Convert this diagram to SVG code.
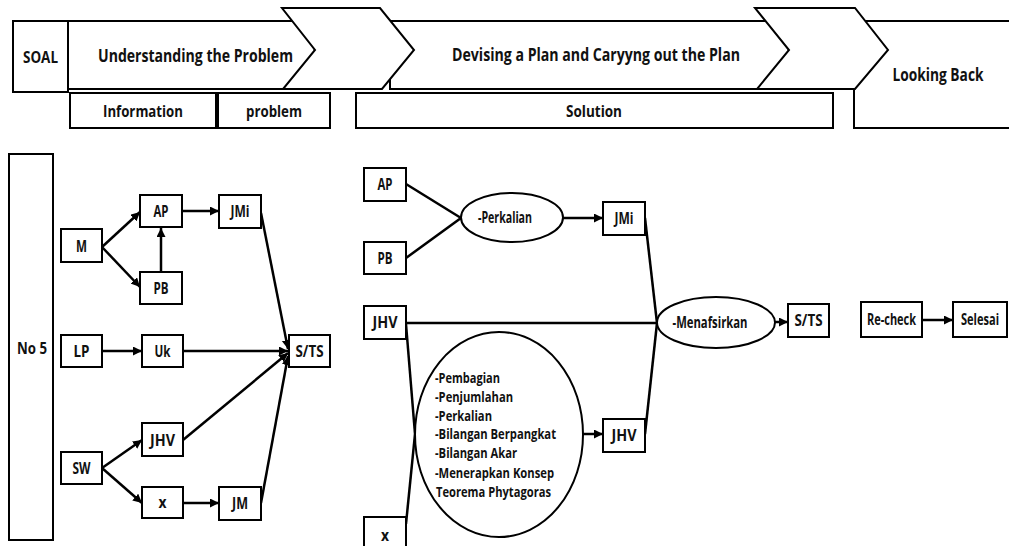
<svg xmlns="http://www.w3.org/2000/svg" width="1009" height="546" viewBox="0 0 1009 546">
  <style>
    .shape { fill: #fff; stroke: #000; stroke-width: 2; }
    .t { font-family: "Open Sans", "Liberation Sans", sans-serif; font-weight: 700; font-size: 16px; fill: #111; text-anchor: middle; }
    .h { font-size: 18px; }
    .lt { text-anchor: start; font-size: 15px; }
    .ln { fill: none; stroke: #000; stroke-width: 2.5; }
    .arr { marker-end: url(#head); }
  </style>
  <defs>
    <marker id="head" markerUnits="userSpaceOnUse" markerWidth="10" markerHeight="10" refX="9" refY="4.5" orient="auto">
      <path d="M0,0 L9,4.5 L0,9 Z" fill="#000"/>
    </marker>
  </defs>
  <rect width="1009" height="546" fill="#fff"/>

  <!-- header band: stage chevrons -->
  <g id="header">
    <g id="soal">
      <rect class="shape" x="13" y="21" width="55" height="71"/>
      <text class="t" x="40.5" y="63" textLength="35" lengthAdjust="spacingAndGlyphs">SOAL</text>
    </g>
    <g id="understanding">
      <polygon class="shape" points="68,21 300,21 315,50 300,89 68,89"/>
    </g>
    <g id="devising">
      <polygon class="shape" points="390,21 775,21 789,50 775,89 390,89"/>
    </g>
    <g id="looking-back">
      <rect class="shape" x="854" y="21" width="170" height="107"/>
    </g>
    <polygon class="shape" points="282,8 380,8 414,50 382,89 283,89 315,50"/>
    <polygon class="shape" points="755,8 855,8 888,50 855,89 757,89 789,50"/>
    <text class="t h" x="195.5" y="62" textLength="195" lengthAdjust="spacingAndGlyphs">Understanding the Problem</text>
    <text class="t h" x="596" y="61" textLength="288" lengthAdjust="spacingAndGlyphs">Devising a Plan and Caryyng out the Plan</text>
    <text class="t h" x="938" y="81" textLength="91" lengthAdjust="spacingAndGlyphs">Looking Back</text>

    <g id="information">
      <rect class="shape" x="70" y="93" width="146" height="35"/>
      <text class="t" x="143" y="117" textLength="80" lengthAdjust="spacingAndGlyphs">Information</text>
    </g>
    <g id="problem">
      <rect class="shape" x="218" y="93" width="112" height="35"/>
      <text class="t" x="274" y="117" textLength="56" lengthAdjust="spacingAndGlyphs">problem</text>
    </g>
    <g id="solution">
      <rect class="shape" x="356" y="93" width="477" height="35"/>
      <text class="t" x="594" y="117" textLength="56" lengthAdjust="spacingAndGlyphs">Solution</text>
    </g>
  </g>

  <!-- connectors -->
  <g id="connectors">
    <line class="ln arr" x1="102" y1="247" x2="140" y2="212"/>
    <line class="ln arr" x1="102" y1="247" x2="140" y2="287"/>
    <line class="ln arr" x1="161" y1="272" x2="161" y2="228"/>
    <line class="ln arr" x1="182" y1="211" x2="219" y2="211"/>
    <line class="ln arr" x1="102" y1="351" x2="142" y2="351"/>
    <line class="ln arr" x1="102" y1="468" x2="142" y2="440"/>
    <line class="ln arr" x1="102" y1="468" x2="142" y2="503"/>
    <line class="ln arr" x1="183" y1="503" x2="219" y2="503"/>
    <line class="ln arr" x1="261" y1="213" x2="288" y2="349"/>
    <line class="ln arr" x1="183" y1="351" x2="288" y2="351"/>
    <line class="ln arr" x1="183" y1="440" x2="288" y2="353"/>
    <line class="ln arr" x1="261" y1="503" x2="288" y2="356"/>

    <line class="ln" x1="406" y1="184" x2="461" y2="218"/>
    <line class="ln" x1="406" y1="258" x2="461" y2="218"/>
    <line class="ln arr" x1="563" y1="218" x2="603" y2="218"/>
    <line class="ln" x1="406" y1="323" x2="657" y2="323"/>
    <line class="ln" x1="645" y1="218" x2="657" y2="323"/>
    <line class="ln" x1="645" y1="434" x2="657" y2="323"/>
    <line class="ln arr" x1="775" y1="322" x2="788" y2="322"/>
    <line class="ln" x1="406" y1="324" x2="415" y2="434"/>
    <line class="ln" x1="406" y1="524" x2="415" y2="434"/>
    <line class="ln arr" x1="583" y1="434" x2="603" y2="434"/>
    <line class="ln arr" x1="922" y1="320" x2="953" y2="320"/>
  </g>

  <!-- problem analysis nodes -->
  <g id="no5">
    <rect class="shape" x="9" y="154" width="44" height="386"/>
    <text class="t" x="32" y="354" textLength="30" lengthAdjust="spacingAndGlyphs">No 5</text>
  </g>
  <g id="m">
    <rect class="shape" x="61" y="229" width="41" height="33"/>
    <text class="t" x="81.5" y="251.5" textLength="11" lengthAdjust="spacingAndGlyphs">M</text>
  </g>
  <g id="ap">
    <rect class="shape" x="140" y="195" width="42" height="32"/>
    <text class="t" x="161" y="216.5" textLength="15" lengthAdjust="spacingAndGlyphs">AP</text>
  </g>
  <g id="jmi">
    <rect class="shape" x="219" y="195" width="42" height="33"/>
    <text class="t" x="240" y="217" textLength="19" lengthAdjust="spacingAndGlyphs">JMi</text>
  </g>
  <g id="pb">
    <rect class="shape" x="140" y="272" width="42" height="32"/>
    <text class="t" x="161" y="293.5" textLength="15" lengthAdjust="spacingAndGlyphs">PB</text>
  </g>
  <g id="lp">
    <rect class="shape" x="61" y="335" width="41" height="32"/>
    <text class="t" x="81.5" y="356.5" textLength="16" lengthAdjust="spacingAndGlyphs">LP</text>
  </g>
  <g id="uk">
    <rect class="shape" x="142" y="335" width="41" height="32"/>
    <text class="t" x="162.5" y="356.5" textLength="16" lengthAdjust="spacingAndGlyphs">Uk</text>
  </g>
  <g id="sts">
    <rect class="shape" x="289" y="335" width="41" height="32"/>
    <text class="t" x="309.5" y="356.5" textLength="28" lengthAdjust="spacingAndGlyphs">S/TS</text>
  </g>
  <g id="sw">
    <rect class="shape" x="61" y="452" width="41" height="32"/>
    <text class="t" x="81.5" y="473.5" textLength="18" lengthAdjust="spacingAndGlyphs">SW</text>
  </g>
  <g id="jhv">
    <rect class="shape" x="142" y="423" width="41" height="33"/>
    <text class="t" x="162.5" y="445.5" textLength="25" lengthAdjust="spacingAndGlyphs">JHV</text>
  </g>
  <g id="x">
    <rect class="shape" x="142" y="487" width="41" height="31"/>
    <text class="t" x="162.5" y="507.5" textLength="8" lengthAdjust="spacingAndGlyphs">x</text>
  </g>
  <g id="jm">
    <rect class="shape" x="219" y="487" width="42" height="33"/>
    <text class="t" x="240" y="509" textLength="16" lengthAdjust="spacingAndGlyphs">JM</text>
  </g>

  <!-- solution nodes -->
  <g id="ap2">
    <rect class="shape" x="364" y="168" width="42" height="33"/>
    <text class="t" x="385" y="190" textLength="15" lengthAdjust="spacingAndGlyphs">AP</text>
  </g>
  <g id="pb2">
    <rect class="shape" x="364" y="242" width="42" height="32"/>
    <text class="t" x="385" y="263.5" textLength="15" lengthAdjust="spacingAndGlyphs">PB</text>
  </g>
  <g id="perkalian">
    <ellipse class="shape" cx="512" cy="217.5" rx="51" ry="24.5"/>
    <text class="t" x="505" y="223" textLength="54" lengthAdjust="spacingAndGlyphs">-Perkalian</text>
  </g>
  <g id="jmi2">
    <rect class="shape" x="603" y="202" width="42" height="33"/>
    <text class="t" x="624" y="224" textLength="19" lengthAdjust="spacingAndGlyphs">JMi</text>
  </g>
  <g id="jhv2">
    <rect class="shape" x="364" y="306" width="42" height="33"/>
    <text class="t" x="385" y="328" textLength="25" lengthAdjust="spacingAndGlyphs">JHV</text>
  </g>
  <g id="operations">
    <ellipse class="shape" cx="499" cy="434.5" rx="84" ry="102.5"/>
    <text class="t lt" x="435" y="383" textLength="65" lengthAdjust="spacingAndGlyphs">-Pembagian</text>
    <text class="t lt" x="435" y="402" textLength="78" lengthAdjust="spacingAndGlyphs">-Penjumlahan</text>
    <text class="t lt" x="435" y="421" textLength="57" lengthAdjust="spacingAndGlyphs">-Perkalian</text>
    <text class="t lt" x="435" y="439" textLength="121" lengthAdjust="spacingAndGlyphs">-Bilangan Berpangkat</text>
    <text class="t lt" x="435" y="458" textLength="82" lengthAdjust="spacingAndGlyphs">-Bilangan Akar</text>
    <text class="t lt" x="435" y="478" textLength="119" lengthAdjust="spacingAndGlyphs">-Menerapkan Konsep</text>
    <text class="t lt" x="436" y="497" textLength="115" lengthAdjust="spacingAndGlyphs">Teorema Phytagoras</text>
  </g>
  <g id="jhv3">
    <rect class="shape" x="603" y="419" width="42" height="33"/>
    <text class="t" x="624" y="441" textLength="25" lengthAdjust="spacingAndGlyphs">JHV</text>
  </g>
  <g id="x2">
    <rect class="shape" x="364" y="517" width="42" height="40"/>
    <text class="t" x="385" y="541" textLength="8" lengthAdjust="spacingAndGlyphs">x</text>
  </g>
  <g id="menafsirkan">
    <ellipse class="shape" cx="716" cy="322.5" rx="59" ry="25.5"/>
    <text class="t" x="710" y="328" textLength="75" lengthAdjust="spacingAndGlyphs">-Menafsirkan</text>
  </g>
  <g id="sts2">
    <rect class="shape" x="788" y="304" width="41" height="33"/>
    <text class="t" x="808.5" y="326" textLength="28" lengthAdjust="spacingAndGlyphs">S/TS</text>
  </g>

  <!-- review nodes -->
  <g id="recheck">
    <rect class="shape" x="861" y="302" width="61" height="35"/>
    <text class="t" x="891.5" y="325" textLength="49" lengthAdjust="spacingAndGlyphs">Re-check</text>
  </g>
  <g id="selesai">
    <rect class="shape" x="953" y="302" width="54" height="35"/>
    <text class="t" x="980" y="325" textLength="38" lengthAdjust="spacingAndGlyphs">Selesai</text>
  </g>
</svg>
